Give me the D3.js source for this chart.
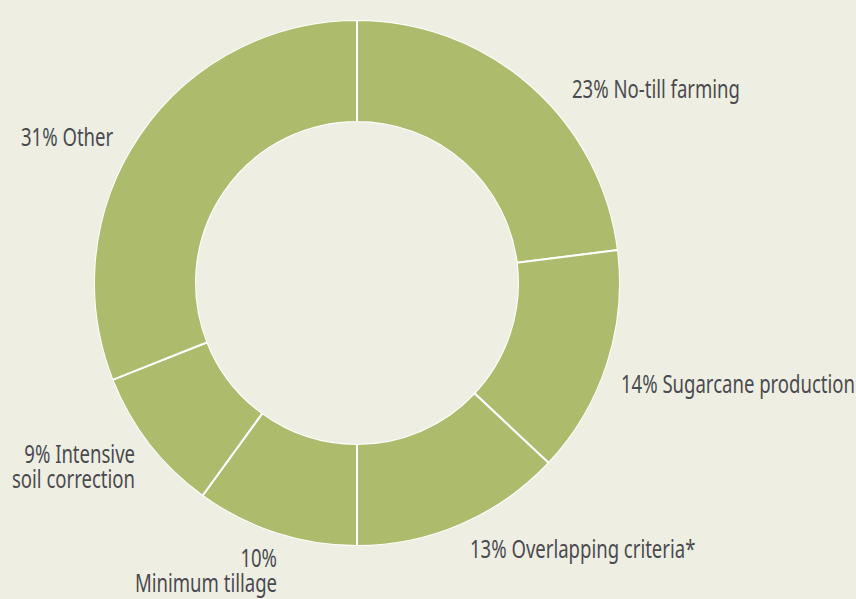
<!DOCTYPE html>
<html>
<head>
<meta charset="utf-8">
<script src="https://cdn.jsdelivr.net/npm/d3@7"></script>
<style>
  html, body { margin: 0; padding: 0; background: #eeefe2; }
  svg { display: block; }
  .label { font-family: "Noto Sans", "Open Sans", sans-serif; font-size: 25px; fill: #4a4a50; }
</style>
</head>
<body>
<svg id="chart" width="856" height="599"></svg>
<script>
    var categories = ["No-till farming", "Sugarcane production", "Overlapping criteria*", "Minimum tillage", "Intensive soil correction", "Other"];
    var shares = [23, 14, 13, 10, 9, 31];
    var labelLines = [
        ["23% No-till farming"],
        ["14% Sugarcane production"],
        ["13% Overlapping criteria*"],
        ["10%", "Minimum tillage"],
        ["9% Intensive", "soil correction"],
        ["31% Other"]
    ];

    // where each label sits (x, first baseline, anchor)
    var labelPos = [
        [572, 98, "start"],
        [621, 393, "start"],
        [470, 558, "start"],
        [277, 567, "end"],
        [135, 463, "end"],
        [21, 146, "start"]
    ];

    var cx = 357, cy = 283;
    var outerR = 263, innerR = 161;
    var bg = "#eeefe2";
    var lineGap = 25;

    var data = categories.map(function (c, i) {
        return { name: c, value: shares[i], lines: labelLines[i], pos: labelPos[i] };
    });

    var svg = d3.select("#chart");

    var pie = d3.pie()
        .sort(null)
        .value(function (d) { return d.value; });

    var arc = d3.arc()
        .innerRadius(innerR)
        .outerRadius(outerR);

    var g = svg.append("g")
        .attr("transform", "translate(" + cx + "," + cy + ")");

    g.selectAll("path")
        .data(pie(data))
        .enter()
        .append("path")
        .attr("d", arc)
        .attr("fill", "#adbb6d")
        .attr("stroke", "#ffffff")
        .attr("stroke-width", 2);

    // hide the white stroke on the rims so only the radial separators show
    g.append("circle").attr("r", outerR + 1).attr("fill", "none").attr("stroke", bg).attr("stroke-width", 2);
    g.append("circle").attr("r", innerR - 1).attr("fill", bg).attr("stroke", bg).attr("stroke-width", 2);

    var labels = svg.selectAll("g.lbl")
        .data(data)
        .enter()
        .append("g")
        .attr("class", "lbl");

    var texts = labels.append("text")
        .attr("class", "label")
        .attr("text-anchor", function (d) { return d.pos[2]; });

    texts.selectAll("tspan")
        .data(function (d) {
            return d.lines.map(function (l, j) { return { t: l, y: d.pos[1] + j * lineGap }; });
        })
        .enter()
        .append("tspan")
        .attr("x", 0)
        .attr("y", function (d) { return d.y; })
        .text(function (d) { return d.t; });

    // the original face is a condensed one: squeeze horizontally to match
    var refWidth = 168;
    var measured = texts.nodes()[0].getBBox().width;
    var squeeze = refWidth / measured;

    labels.attr("transform", function (d) {
        return "translate(" + d.pos[0] + ",0) scale(" + squeeze + ",1)";
    });
</script>
</body>
</html>
